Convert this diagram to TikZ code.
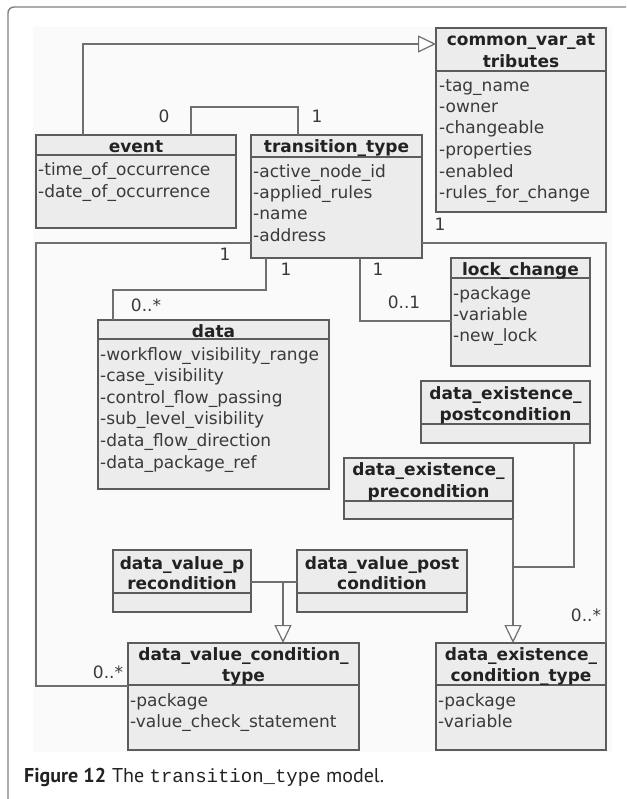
\documentclass[tikz,border=0pt]{standalone}
\usepackage{fontspec}
\setmainfont{DejaVu Sans}
\newfontfamily\capfont{PT Sans}
\newfontfamily\capmono{Liberation Mono}
\usetikzlibrary{arrows.meta}
\definecolor{linecol}{HTML}{6F6F6F}
\definecolor{boxline}{HTML}{5C5C5C}
\definecolor{boxfill}{HTML}{ECECEC}
\definecolor{txt}{HTML}{3A3A3A}
\definecolor{hdrtxt}{HTML}{222222}
\definecolor{framecol}{HTML}{808080}
\definecolor{bgcol}{HTML}{FAFAFA}
\tikzset{
  cls/.style={draw=boxline, fill=boxfill, line width=1.2pt, inner sep=0pt, outer sep=0pt},
  divline/.style={draw=boxline, line width=1.2pt},
  hdr/.style={anchor=base, inner sep=0pt, font=\fontsize{17}{20}\selectfont\bfseries, text=hdrtxt},
  att/.style={anchor=base west, inner sep=0pt, font=\fontsize{17}{20}\selectfont, text=txt},
  mult/.style={anchor=base, inner sep=0pt, font=\fontsize{17}{20}\selectfont, text=txt},
  assoc/.style={draw=linecol, line width=1.2pt},
  gen/.style={draw=linecol, line width=1.2pt, -{Triangle[open, length=18pt, width=17pt, fill=white]}},
}
\newcommand{\umlbox}[6]{%
  \node[cls, minimum width={#4pt-#2pt}, minimum height={#5pt-#3pt}, anchor=north west] (#1) at (#2,#3) {};
  \draw[divline] (#1.west |- 0,#6) -- (#1.east |- 0,#6);
}
\begin{document}
\begin{tikzpicture}[x=1pt,y=-1pt]
\useasboundingbox (0,0) rectangle (626,799);
\fill[white] (0,0) rectangle (626,799);
\fill[bgcol] (33,27) rectangle (612,752);
\draw[framecol, line width=1.4pt, rounded corners=6pt] (8,799) -- (8,7) -- (626,7);

% classes
\umlbox{common}{436}{28}{606}{212}{71}
\node[hdr] at (521,46) {common\_var\_at};
\node[hdr] at (521,68) {tributes};
\node[att] at (439,92) {-tag\_name};
\node[att] at (439,113) {-owner};
\node[att] at (439,134) {-changeable};
\node[att] at (439,156) {-properties};
\node[att] at (439,178) {-enabled};
\node[att] at (439,199) {-rules\_for\_change};

\umlbox{event}{36}{135}{236}{228}{155}
\node[hdr] at (136,153) {event};
\node[att] at (38,176) {-time\_of\_occurrence};
\node[att] at (38,198) {-date\_of\_occurrence};

\umlbox{trans}{251}{135}{422}{258}{157}
\node[hdr] at (336.5,153) {transition\_type};
\node[att] at (253,178) {-active\_node\_id};
\node[att] at (253,199) {-applied\_rules};
\node[att] at (253,220) {-name};
\node[att] at (253,242) {-address};

\umlbox{lock}{451}{258}{590}{366}{278}
\node[hdr] at (520.5,276) {lock\_change};
\node[att] at (453,299) {-package};
\node[att] at (453,320) {-variable};
\node[att] at (453,341) {-new\_lock};

\umlbox{data}{98}{320}{329}{489}{339}
\node[hdr] at (213.5,337) {data};
\node[att] at (100,360) {-workflow\_visibility\_range};
\node[att] at (100,381) {-case\_visibility};
\node[att] at (100,403) {-control\_flow\_passing};
\node[att] at (100,424) {-sub\_level\_visibility};
\node[att] at (100,446) {-data\_flow\_direction};
\node[att] at (100,468) {-data\_package\_ref};

\umlbox{expost}{421}{381}{590}{443}{424}
\node[hdr] at (505.5,399) {data\_existence\_};
\node[hdr] at (505.5,420) {postcondition};

\umlbox{expre}{344}{458}{513}{519}{501}
\node[hdr] at (428.5,475) {data\_existence\_};
\node[hdr] at (428.5,497) {precondition};

\umlbox{vpre}{113}{550}{251}{612}{593}
\node[hdr] at (182,569) {data\_value\_p};
\node[hdr] at (182,589) {recondition};

\umlbox{vpost}{297}{550}{467}{612}{593}
\node[hdr] at (382,569) {data\_value\_post};
\node[hdr] at (382,589) {condition};

\umlbox{vct}{128}{643}{359}{750}{685}
\node[hdr] at (243.5,660) {data\_value\_condition\_};
\node[hdr] at (243.5,681) {type};
\node[att] at (130,706) {-package};
\node[att] at (130,727) {-value\_check\_statement};

\umlbox{ect}{436}{643}{606}{750}{685}
\node[hdr] at (521,660) {data\_existence\_};
\node[hdr] at (521,681) {condition\_type};
\node[att] at (438,706) {-package};
\node[att] at (438,727) {-variable};

% connectors
\draw[gen] ([xshift=47pt]event.north west) |- (common.west |- 0,44);
\draw[assoc] ([xshift=155pt]event.north west) |- ([xshift=47pt,yshift=28pt]trans.north west) -- ([xshift=47pt]trans.north west);
\node[mult] at (164,123) {0};
\node[mult] at (317,123) {1};

\draw[assoc] (trans.west |- 0,243) -- (event.west |- 0,243) |- (vct.west |- 0,686);
\node[mult] at (225,261) {1};
\node[mult] at (108,678) {0..*};

\draw[assoc] (trans.east |- 0,243) -| (ect.north east);
\node[mult] at (440,231) {1};
\node[mult] at (586,621) {0..*};

\draw[assoc] ([xshift=15pt]trans.south west) |- ([xshift=15pt,yshift=30pt]data.north west) -- ([xshift=15pt]data.north west);
\node[mult] at (286,276) {1};
\node[mult] at (146,311) {0..*};

\draw[assoc] ([xshift=109pt]trans.south west) |- (lock.west |- 0,321);
\node[mult] at (378,276) {1};
\node[mult] at (404,308) {0..1};

\draw[assoc] ([xshift=-16pt]expost.south east) |- (expre.south east |- 0,567);
\draw[gen] (expre.south east) -- (expre.south east |- ect.north);

\coordinate (vt) at ([xshift=155pt]vct.north west);
\draw[assoc] (vpre.east |- 0,582) -- (vpost.west |- 0,582);
\draw[gen] (vt |- 0,582) -- (vt);

% caption
\node[anchor=base west, inner sep=0pt, text=hdrtxt] (cap) at (24,782)
  {{\capfont\bfseries\fontsize{20}{24}\selectfont Figure 12}\hspace{6pt}{\capfont\fontsize{20}{24}\selectfont The }{\capmono\fontsize{19}{24}\selectfont transition\_type}{\capfont\fontsize{20}{24}\selectfont\ model.}};
\end{tikzpicture}
\end{document}
